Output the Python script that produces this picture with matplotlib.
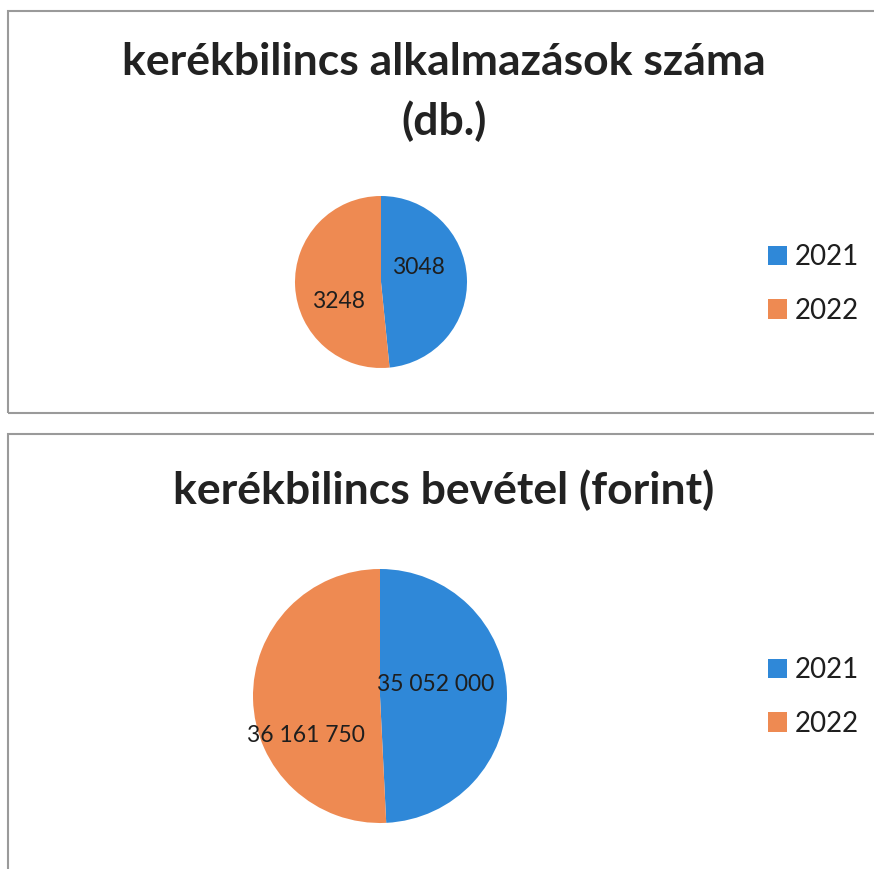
import matplotlib
matplotlib.use("Agg")
import matplotlib.pyplot as plt
from matplotlib.patches import Rectangle

# data
years = ["2021", "2022"]
count_values = [3048, 3248]          # kerékbilincs alkalmazások száma (db.)
income_values = [35052000, 36161750]  # kerékbilincs bevétel (forint)

title_top = "kerékbilincs alkalmazások száma\n(db.)"
title_bottom = "kerékbilincs bevétel (forint)"

colors = ["#2F88D8", "#EE8A52"]
W, H = 874, 869

plt.rcParams["font.family"] = ["Lato", "DejaVu Sans"]

fig = plt.figure(figsize=(W / 100, H / 100), dpi=100)
fig.patch.set_facecolor("white")


def fx(px):
    return px / W


def fy(py):
    return 1 - py / H


# panel frames (pixel boxes: left, top, right, bottom)
for left, top, right, bottom in [(8, 11, 900, 413), (8, 434, 900, 900)]:
    fig.add_artist(Rectangle((fx(left), fy(bottom)), fx(right - left), (bottom - top) / H,
                             transform=fig.transFigure, fill=False,
                             edgecolor="#9a9a9a", linewidth=1.5))


def fmt(v):
    # excel only groups the big numbers here
    if v >= 10000:
        return f"{v:,}".replace(",", " ")
    return str(v)


def draw_pie(values, cx, cy, r, label_offsets, title, title_y, legend_y):
    ax = fig.add_axes([fx(cx - r), fy(cy + r), fx(2 * r), 2 * r / H])
    wedges, _ = ax.pie(values, colors=colors, startangle=90, counterclock=False,
                       radius=1, wedgeprops=dict(linewidth=0))
    ax.set_xlim(-1, 1)
    ax.set_ylim(-1, 1)
    ax.set_aspect("auto")
    ax.axis("off")
    for v, (dx, dy) in zip(values, label_offsets):
        ax.text(dx, dy, fmt(v), ha="center", va="center", fontsize=16.5,
                color="#1e1e1e")
    fig.text(fx(444), fy(title_y), title, ha="center", va="center",
             fontsize=32, fontweight="bold", color="#222222", linespacing=1.55)
    fig.legend(wedges, years, loc="center left",
               bbox_to_anchor=(fx(768), fy(legend_y)), bbox_transform=fig.transFigure,
               frameon=False, fontsize=20, borderpad=0, borderaxespad=0,
               handlelength=0.7, handleheight=0.7, handletextpad=0.25,
               labelspacing=1.0, labelcolor="#1e1e1e")


draw_pie(count_values, 381, 282, 86, [(0.44, 0.17), (-0.49, -0.23)],
         title_top, 92, 284)
draw_pie(income_values, 380, 696, 127, [(0.44, 0.094), (-0.58, -0.31)],
         title_bottom, 490, 697)

fig.savefig("out.png", dpi=100, facecolor="white")
